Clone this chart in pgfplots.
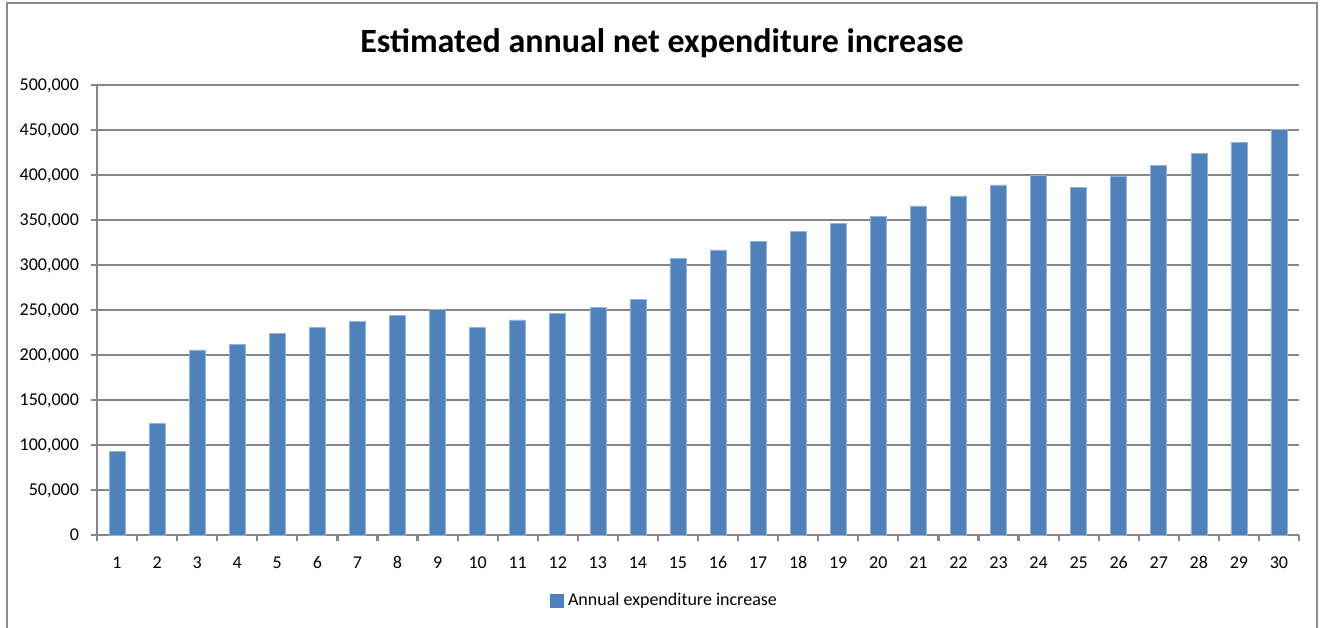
\documentclass[border=0pt]{standalone}
\usepackage{pgfplots}
\pgfplotsset{compat=1.18}
\usepackage{fontspec}
\setmainfont{Carlito}
\definecolor{barblue}{HTML}{4F81BD}
\definecolor{gridgray}{HTML}{868686}
\definecolor{framegray}{HTML}{8C8C8C}
\begin{document}
\begin{tikzpicture}
\path[use as bounding box] (0pt,0pt) rectangle (660pt,313.5pt);
\draw[framegray, line width=1.2pt] (3.5pt,-3pt) -- (3.5pt,312pt) -- (658.5pt,312pt) -- (658.5pt,-3pt);
\begin{axis}[
  at={(48.5pt,46pt)}, anchor=south west,
  scale only axis, width=601pt, height=225pt,
  xmin=0.5, xmax=30.5, ymin=0, ymax=500000,
  scaled y ticks=false,
  ytick={0,50000,...,500000},
  yticklabels={0,{50,000},{100,000},{150,000},{200,000},{250,000},{300,000},{350,000},{400,000},{450,000},{500,000}},
  xtick={1,...,30},
  xticklabels={1,2,3,4,5,6,7,8,9,10,11,12,13,14,15,16,17,18,19,20,21,22,23,24,25,26,27,28,29,30},
  minor xtick={0.5,1.5,...,30.5},
  major x tick style={draw=none},
  minor tick length=3pt,
  major tick length=3pt,
  tick align=outside,
  tick style={gridgray, line width=1.1pt},
  ymajorgrids, major grid style={gridgray, line width=1.1pt},
  axis x line*=bottom, axis y line*=left,
  axis line style={gridgray, line width=1.1pt, -},
  every tick label/.append style={font=\fontsize{9}{10}\selectfont, text=black},
  yticklabel style={xshift=-2.5pt, text height=6.5pt, text depth=1pt},
  xticklabel style={yshift=-3.5pt, text height=6.5pt, text depth=1pt},
  ybar, bar width=8pt,
  title={\textbf{Estimated annual net expenditure increase}},
  every axis title/.style={at={(0.470,1.093)}, anchor=center, font=\fontsize{17}{19}\selectfont},
  legend style={at={(0.473,-0.147)}, anchor=center, draw=none, font=\fontsize{9}{10}\selectfont, legend cell align=left, inner sep=0pt},
  legend image code/.code={\fill[barblue] (0pt,-3.3pt) rectangle (6.6pt,3.3pt);},
]
\addplot[fill=barblue, draw=barblue!60!white, line width=0.3pt] coordinates {
(1,92600) (2,124000) (3,205600) (4,211900) (5,224000) (6,230700) (7,237000) (8,244400) (9,250700) (10,230700)
(11,238900) (12,246300) (13,252600) (14,261900) (15,307400) (16,316700) (17,325900) (18,337000) (19,346300) (20,354400)
(21,365600) (22,376700) (23,388900) (24,400000) (25,385900) (26,398100) (27,411100) (28,423700) (29,436300) (30,450700)
};
\addlegendentry{Annual expenditure increase}
\end{axis}
\end{tikzpicture}
\end{document}
